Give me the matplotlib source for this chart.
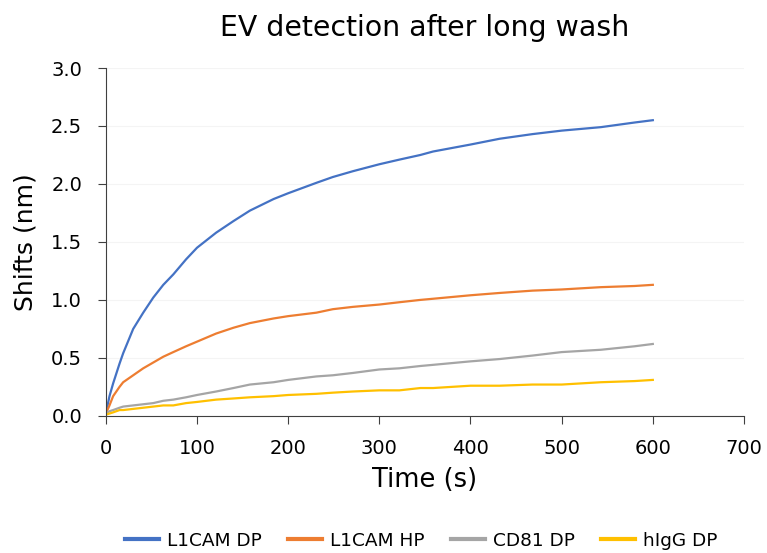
import matplotlib
matplotlib.use("Agg")
import matplotlib.pyplot as plt

# values (time in s, shift in nm)
time_s = [0, 4, 8, 15, 19, 30, 41, 52, 63, 74, 88, 100, 121, 140, 158, 184, 200, 231,
          249, 271, 300, 322, 345, 359, 400, 432, 468, 500, 543, 580, 600]
l1cam_dp = [0.02, 0.17, 0.28, 0.45, 0.54, 0.75, 0.89, 1.02, 1.13, 1.22, 1.35, 1.45, 1.58,
            1.68, 1.77, 1.87, 1.92, 2.01, 2.06, 2.11, 2.17, 2.21, 2.25, 2.28, 2.34, 2.39,
            2.43, 2.46, 2.49, 2.53, 2.55]
l1cam_hp = [0.02, 0.09, 0.17, 0.25, 0.29, 0.35, 0.41, 0.46, 0.51, 0.55, 0.60, 0.64, 0.71,
            0.76, 0.80, 0.84, 0.86, 0.89, 0.92, 0.94, 0.96, 0.98, 1.00, 1.01, 1.04, 1.06,
            1.08, 1.09, 1.11, 1.12, 1.13]
cd81_dp = [0.02, 0.04, 0.05, 0.07, 0.08, 0.09, 0.10, 0.11, 0.13, 0.14, 0.16, 0.18, 0.21,
           0.24, 0.27, 0.29, 0.31, 0.34, 0.35, 0.37, 0.40, 0.41, 0.43, 0.44, 0.47, 0.49,
           0.52, 0.55, 0.57, 0.60, 0.62]
higg_dp = [0.01, 0.02, 0.03, 0.05, 0.05, 0.06, 0.07, 0.08, 0.09, 0.09, 0.11, 0.12, 0.14,
           0.15, 0.16, 0.17, 0.18, 0.19, 0.20, 0.21, 0.22, 0.22, 0.24, 0.24, 0.26, 0.26,
           0.27, 0.27, 0.29, 0.30, 0.31]

series = [
    ("L1CAM DP", l1cam_dp, "#4472C4"),
    ("L1CAM HP", l1cam_hp, "#ED7D31"),
    ("CD81 DP", cd81_dp, "#A5A5A5"),
    ("hIgG DP", higg_dp, "#FFC000"),
]

plt.rcParams["font.family"] = ["DejaVu Sans"]

fig = plt.figure(figsize=(7.67, 5.53), dpi=100)
ax = fig.add_axes([0.138, 0.248, 0.832, 0.629])

for name, values, color in series:
    ax.plot(time_s, values, color=color, linewidth=1.6, label=name)

ax.set_xlim(0, 700)
ax.set_ylim(0, 3.0)
ax.set_xticks(range(0, 701, 100))
ax.set_yticks([0, 0.5, 1.0, 1.5, 2.0, 2.5, 3.0])
ax.set_yticklabels(["{:.1f}".format(v) for v in ax.get_yticks()])
ax.tick_params(labelsize=14, length=6, pad=11, direction="out", color="#404040")
ax.grid(axis="y", color="#f4f4f4", linewidth=0.8)
ax.set_axisbelow(True)
for side in ("top", "right"):
    ax.spines[side].set_visible(False)
for side in ("left", "bottom"):
    ax.spines[side].set_color("#404040")

ax.set_xlabel("Time (s)", fontsize=18.5, labelpad=6)
ax.set_ylabel("Shifts (nm)", fontsize=18, labelpad=10)
ax.set_title("EV detection after long wash", fontsize=20.4, pad=23)

fig.legend(loc="lower center", bbox_to_anchor=(0.549, -0.024), ncol=4, frameon=False,
           fontsize=13.3, handlelength=1.85, handletextpad=0.45, columnspacing=1.4)
for line in fig.legends[0].get_lines():
    line.set_linewidth(3)

fig.savefig("out.png", dpi=100)
